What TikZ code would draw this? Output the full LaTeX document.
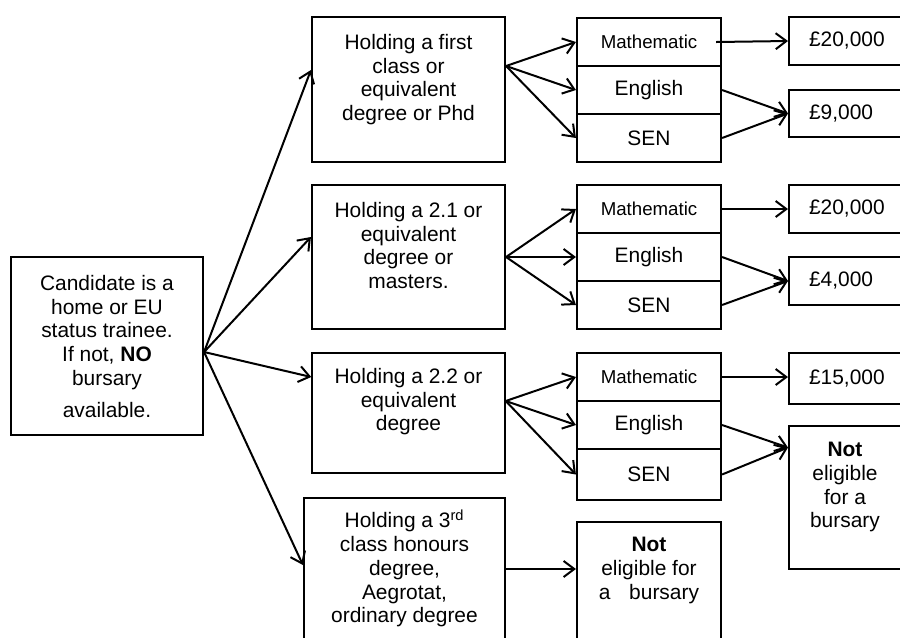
\documentclass[tikz,border=0pt]{standalone}
\usepackage{fontspec}
\setmainfont{Liberation Sans}
\usetikzlibrary{arrows.meta,calc}
\begin{document}
\begin{tikzpicture}[x=0.75pt,y=-0.75pt,
  box/.style={draw, line width=1.6pt, inner sep=0pt},
  txt/.style={inner sep=0pt, align=center, anchor=north, font=\fontsize{15.7}{17.8}\selectfont},
  subj/.style={box, minimum width=108pt, minimum height=36pt, font=\fontsize{15.7}{17.8}\selectfont},
  money/.style={box, anchor=west, inner xsep=15pt, text width=90pt, align=left, font=\fontsize{15.7}{17.8}\selectfont},
  arr/.style={line width=1.5pt, -{Straight Barb[length=8pt,width=12pt,line width=1.5pt]}}
]
\useasboundingbox (0,0) rectangle (900,637);
\clip (0,0) rectangle (900,637);

% left box
\node[box, minimum width=144pt, minimum height=133.5pt] (L) at (107,346) {};
\node[txt] (Lt) at (107,275) {Candidate is a\\home or EU\\status trainee.\\If not, \textbf{NO}\\bursary\\[6pt]available.};

% degree boxes
\node[box, minimum width=144.75pt, minimum height=108.75pt] (A) at (408.5,89.5) {};
\node[txt] (At) at (408.5,34) {Holding a first\\class or\\equivalent\\degree or Phd};
\node[box, minimum width=144.75pt, minimum height=108pt] (B) at (408.5,257) {};
\node[txt] (Bt) at (408.5,202) {Holding a 2.1 or\\equivalent\\degree or\\masters.};
\node[box, line width=1.1pt, minimum width=144.75pt, minimum height=90pt] (C) at (408.5,413) {};
\node[txt] (Ct) at (408.5,368) {Holding a 2.2 or\\equivalent\\degree};
\node[box, minimum width=150.75pt, minimum height=114pt] (D) at (404.5,574) {};
\node[txt] (Dt) at (404.5,510) {Holding a 3\textsuperscript{rd}\\class honours\\degree,\\Aegrotat,\\ordinary degree};

% subject stacks
\node[subj, font=\fontsize{14}{16}\selectfont] (Am) at (649,42) {Mathematic};
\node[subj] (Ae) at (649,90) {English};
\node[subj] (As) at (649,138) {SEN};
\node[subj, font=\fontsize{14}{16}\selectfont] (Bm) at (649,209) {Mathematic};
\node[subj] (Be) at (649,257) {English};
\node[subj] (Bs) at (649,305) {SEN};
\node[subj, font=\fontsize{14}{16}\selectfont] (Cm) at (649,377) {Mathematic};
\node[subj] (Ce) at (649,425) {English};
\node[subj, minimum height=38.25pt] (Cs) at (649,474.5) {SEN};

% not eligible (3rd)
\node[box, minimum width=108pt, minimum height=96pt] (ND) at (649,586) {};
\node[txt] (NDt) at (649,537) {\textbf{Not}\\eligible for\\a\hspace{14pt}bursary};

% money boxes
\node[money, minimum height=36pt] (A1) at (788,41) {£20,000};
\node[money, minimum height=35.25pt] (A2) at (788,113.5) {£9,000};
\node[money, minimum height=36pt] (B1) at (788,209) {£20,000};
\node[money, minimum height=36pt] (B2) at (788,281) {£4,000};
\node[money, minimum height=38.25pt] (C1) at (788,378.5) {£15,000};
\node[box, anchor=west, minimum width=121.5pt, minimum height=107.25pt] (NC) at (788,497.5) {};
\node[txt] (NCt) at (845,442) {\textbf{Not}\\eligible\\for a\\bursary};

% arrows from left box
\coordinate (Lo) at ($(L.east)+(0,6)$);
\draw[arr] (Lo) -- ($(A.west)+(0,-19.5)$);
\draw[arr] (Lo) -- ($(B.west)+(0,-20)$);
\draw[arr] (Lo) -- ($(C.west)+(0,-36)$);
\draw[arr] (Lo) -- ($(D.west)+(0,-9)$);

% degree -> subjects
\coordinate (Ao) at ($(A.east)+(0,-23.5)$);
\draw[arr] (Ao) -- (Am.west);
\draw[arr] (Ao) -- (Ae.west);
\draw[arr] (Ao) -- (As.west);
\draw[arr] (B.east) -- (Bm.west);
\draw[arr] (B.east) -- (Be.west);
\draw[arr] (B.east) -- (Bs.west);
\coordinate (Co) at ($(C.east)+(0,-12)$);
\draw[arr] (Co) -- (Cm.west);
\draw[arr] (Co) -- (Ce.west);
\draw[arr] (Co) -- (Cs.west);
\draw[arr] ($(D.east)+(0,-5)$) -- ($(ND.west)+(0,-17)$);

% subjects -> money
\draw[arr] ($(Am.east)+(-6,0)$) -- (A1.west);
\draw[arr] (Ae.east) -- (A2.west);
\draw[arr] (As.east) -- (A2.west);
\draw[arr] (Bm.east) -- (B1.west);
\draw[arr] (Be.east) -- (B2.west);
\draw[arr] (Bs.east) -- (B2.west);
\draw[arr] (Cm.east) -- ($(C1.west)+(0,-1.5)$);
\draw[arr] (Ce.east) -- ($(NC.west)+(0,-50)$);
\draw[arr] (Cs.east) -- ($(NC.west)+(0,-50)$);
\end{tikzpicture}
\end{document}
